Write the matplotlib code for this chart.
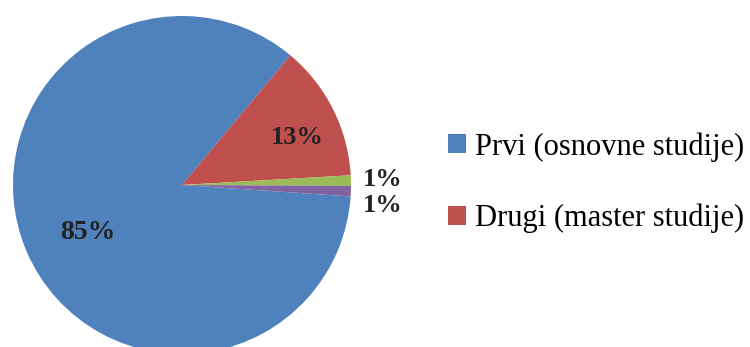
import numpy as np
import matplotlib
matplotlib.use('Agg')
import matplotlib.pyplot as plt

plt.rcParams['font.family'] = ['Liberation Serif', 'DejaVu Serif']

# data
labels = ['Prvi (osnovne studije)', 'Drugi (master studije)', 'Treći', 'Četvrti']
values = [85, 13, 1, 1]
colors = ['#4F81BD', '#C0504D', '#9BBB59', '#8064A2']

# fig setup: 750x347 px, pie centre (182, 185) px, radius 169 px
W, H = 750, 347
cx, cy, r = 182, 185, 169
fig = plt.figure(figsize=(W / 100, H / 100), dpi=100)
fig.patch.set_facecolor('white')
ax = fig.add_axes([0, 0, 1, 1])
ax.axis('off')

wedges, _ = ax.pie(values, colors=colors, startangle=-3.9, counterclock=False,
                   radius=1, wedgeprops=dict(linewidth=0))
ax.set_aspect('auto')
ax.set_xlim(-cx / r, (W - cx) / r)
ax.set_ylim((cy - H) / r, cy / r)

# percentage labels
lab_pos = [(-0.56, -0.28), (0.68, 0.28), (1.19, 0.03), (1.19, -0.12)]
sizes = [20, 19, 19, 19]
for v, (x, y), fs in zip(values, lab_pos, sizes):
    ax.text(x, y, f'{v}%', ha='center', va='center', fontsize=fs,
            fontweight='bold', color='#222222')

leg = fig.legend(wedges[:2], labels[:2], loc='upper left',
                 bbox_to_anchor=(448 / W, 1 - 132 / H), frameon=False,
                 fontsize=22, handlelength=0.6, handleheight=0.6,
                 handletextpad=0.27, labelspacing=1.38, borderpad=0,
                 borderaxespad=0)

fig.savefig('out.png', dpi=100)
